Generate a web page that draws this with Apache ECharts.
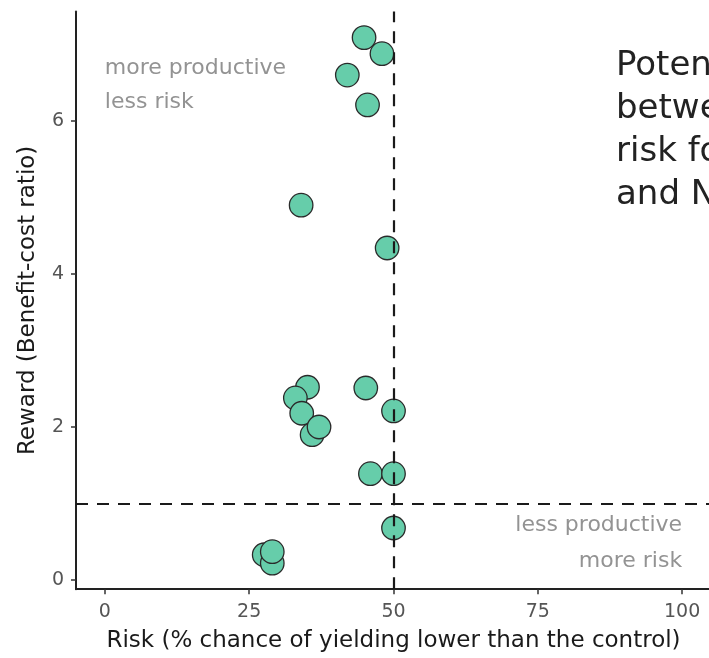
<!DOCTYPE html>
<html>
<head>
<meta charset="utf-8">
<script src="https://cdn.jsdelivr.net/npm/echarts@6/dist/echarts.min.js"></script>
<style>
html,body{margin:0;padding:0;background:#fff;}
#chart{width:709px;height:658px;}
</style>
</head>
<body>
<div id="chart"></div>
<script>
// Risk (% chance of yielding lower than control)
var riskValues = [27.6, 29.0, 29.0, 44.9, 48.0, 42.0, 45.5, 34.0, 48.9, 35.1, 33.0, 34.1, 35.9, 37.1, 45.2, 50.0, 46.0, 50.0, 50.0];
// Reward (benefit-cost ratio)
var rewardValues = [0.33, 0.22, 0.37, 7.09, 6.88, 6.60, 6.21, 4.90, 4.34, 2.52, 2.38, 2.18, 1.90, 2.00, 2.51, 2.21, 1.39, 1.39, 0.68];
var xTicks = [0, 25, 50, 75, 100];
var yTicks = [0, 2, 4, 6];
var riskThreshold = 50;
var rewardThreshold = 1;
var quadrantTexts = ['more productive', 'less risk', 'less productive', 'more risk'];
var quadrantX = [0, 0, 100, 100];
var quadrantY = [6.69, 6.25, 0.71, 0.25];
var quadrantAlign = ['left', 'left', 'right', 'right'];
var sideTitleLines = ['Potential trade-off', 'between reward and', 'risk for farmers', 'and NGOs'];

var points = riskValues.map(function (r, i) { return [r, rewardValues[i]]; });

var chart = echarts.init(document.getElementById('chart'), null, {renderer: 'canvas'});
var axisFont = 'DejaVu Sans';
var option = {
  animation: false,
  backgroundColor: '#ffffff',
  grid: {left: 76, right: -2, top: 11.6, bottom: 68.8, containLabel: false, outerBoundsMode: 'none'},
  xAxis: {
    type: 'value', min: -5, max: 105,
    name: 'Risk (% chance of yielding lower than the control)',
    nameLocation: 'middle', nameGap: 40,
    nameTextStyle: {fontFamily: axisFont, fontSize: 23, color: '#1a1a1a'},
    axisLine: {show: true, onZero: false, lineStyle: {color: '#222', width: 2}},
    axisTick: {show: true, length: 5, lineStyle: {color: '#333', width: 1.5}, customValues: xTicks},
    axisLabel: {show: true, margin: 13, fontFamily: axisFont, fontSize: 19, color: '#555555', customValues: xTicks},
    splitLine: {show: false}
  },
  yAxis: {
    type: 'value', min: -0.12, max: 7.43,
    name: 'Reward (Benefit-cost ratio)',
    nameLocation: 'middle', nameGap: 36, nameRotate: 90,
    nameTextStyle: {fontFamily: axisFont, fontSize: 23, color: '#1a1a1a'},
    axisLine: {show: true, onZero: false, lineStyle: {color: '#222', width: 2}},
    axisTick: {show: true, length: 5, lineStyle: {color: '#333', width: 1.5}, customValues: yTicks},
    axisLabel: {show: true, margin: 12, fontFamily: axisFont, fontSize: 19, color: '#555555', customValues: yTicks},
    splitLine: {show: false}
  },
  series: [
    {
      type: 'scatter',
      data: points,
      symbol: 'circle',
      symbolSize: 23.5,
      itemStyle: {color: '#66CDAA', borderColor: '#2a2a2a', borderWidth: 1.3, opacity: 1},
      emphasis: {disabled: true},
      z: 2
    },
    {
      type: 'line',
      data: [],
      z: 5,
      markLine: {
        silent: true,
        symbol: ['none', 'none'],
        label: {show: false},
        lineStyle: {color: '#1a1a1a', type: [12, 9], width: 2.2},
        data: [{xAxis: riskThreshold}, {yAxis: rewardThreshold}]
      }
    }
  ]
};
chart.setOption(option);

var graphics = [];
quadrantTexts.forEach(function (t, i) {
  var p = chart.convertToPixel({gridIndex: 0}, [quadrantX[i], quadrantY[i]]);
  graphics.push({
    type: 'text', x: p[0], y: p[1], z: 10,
    style: {text: t, fontFamily: axisFont, fontSize: 22, fill: '#939393', align: quadrantAlign[i], verticalAlign: 'middle'}
  });
});
graphics.push({
  type: 'text', x: 616, y: 45, z: 10,
  style: {text: sideTitleLines.join('\n'), fontFamily: 'DejaVu Sans', fontSize: 34, lineHeight: 43, fill: '#222222', align: 'left', verticalAlign: 'top'}
});
chart.setOption({graphic: graphics});
</script>
</body>
</html>
